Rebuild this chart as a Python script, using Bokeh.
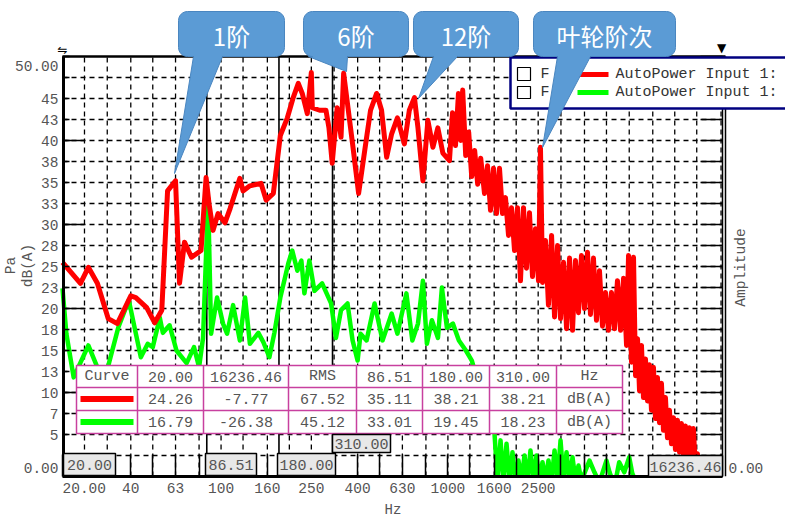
import math
from bokeh.plotting import figure
from bokeh.models import Range1d, LinearScale, FixedTicker
from bokeh.core.properties import value
from bokeh.embed import file_html
from bokeh.resources import INLINE

MONO = "Liberation Mono"
CJK = "Noto Sans CJK SC"
GRAY = "#555555"
PINK = "#C8409F"

# ---------------- data ----------------
red_freq = [20.0, 24.0, 26.0, 28.5, 31.8, 34.9, 40.0, 42.1, 47.0, 51.0,
            54.8, 58.1, 63.0, 65.6, 69.0, 74.1, 81.6, 85.9, 88.5, 92.2,
            97.0, 104.0, 109.6, 121.0, 125.0, 134.0, 150.0, 158.0, 170.0, 177.0,
            182.5, 196.0, 208.0, 219.0, 228.0, 240.0, 250.0, 252.5, 272.0, 290.0,
            299.0, 309.0, 325.0, 338.0, 347.0, 380.0, 404.0, 434.0, 456.0, 485.0,
            510.0, 537.0, 565.0, 599.0, 643.0, 676.0, 712.0, 738.0, 776.0, 816.0,
            859.0, 903.0, 950.0, 1016.0, 1048.0, 1080.0, 1113.0, 1139.0, 1162.0, 1198.0,
            1235.0, 1273.0, 1312.0, 1353.0, 1395.0, 1450.0, 1495.0, 1541.0, 1589.0, 1638.0,
            1688.0, 1741.0, 1794.0, 1850.0, 1907.0, 1966.0, 2027.0, 2089.0, 2154.0, 2220.0,
            2289.0, 2360.0, 2433.0, 2508.0, 2559.0, 2612.0, 2692.0, 2775.0, 2864.0, 2952.0,
            3043.0, 3137.0, 3234.0, 3334.0, 3437.0, 3543.0, 3651.0, 3764.0, 3880.0, 4000.0,
            4124.0, 4251.0, 4382.0, 4518.0, 4658.0, 4802.0, 4950.0, 5103.0, 5260.0, 5423.0,
            5590.0, 5768.0, 5947.0, 6130.0, 6255.0, 6449.0, 6581.0, 6716.0, 6854.0, 6994.0,
            7134.0, 7280.0, 7430.0, 7582.0, 7737.0, 7895.0, 8057.0, 8222.0, 8390.0, 8562.0,
            8738.0, 8917.0, 9100.0, 9287.0, 9477.0, 9671.0, 9869.0, 10071.0, 10277.0, 10488.0,
            10703.0, 10922.0, 11146.0, 11375.0, 11609.0, 11846.0, 12089.0, 12336.0, 12589.0, 12846.0,
            13379.0, 14963.0, 16236.46]
red_db = [25.5, 23.0, 24.9, 23.0, 18.8, 18.2, 21.5, 21.3, 20.1, 18.3,
          19.8, 34.0, 35.2, 23.0, 27.9, 26.1, 26.9, 35.6, 32.5, 29.3,
          31.3, 30.2, 31.9, 35.5, 34.0, 34.6, 34.9, 32.9, 33.7, 37.6,
          40.6, 42.7, 45.1, 46.8, 45.6, 43.2, 48.1, 43.9, 43.6, 43.6,
          41.5, 37.3, 43.9, 40.4, 48.0, 39.6, 33.7, 39.6, 43.6, 45.6,
          43.6, 38.0, 40.8, 42.7, 39.6, 43.6, 45.1, 41.5, 35.2, 42.4,
          39.2, 41.5, 38.5, 37.6, 43.3, 39.4, 45.6, 40.0, 46.0, 38.2,
          41.0, 35.7, 38.8, 34.8, 37.9, 33.7, 37.0, 31.7, 36.7, 31.3,
          36.7, 31.3, 33.2, 28.7, 32.0, 26.9, 32.0, 23.3, 32.0, 24.8,
          31.4, 23.8, 29.5, 23.3, 39.2, 23.1, 28.1, 20.4, 28.7, 19.0,
          27.5, 18.8, 25.5, 17.6, 26.0, 17.4, 25.7, 19.5, 26.3, 20.0,
          26.7, 19.3, 26.0, 18.6, 24.5, 17.9, 21.9, 17.4, 21.9, 17.6,
          23.3, 17.4, 23.6, 15.6, 26.3, 13.6, 26.1, 12.0, 16.4, 10.2,
          15.6, 9.4, 14.0, 9.0, 13.3, 7.9, 13.0, 6.9, 11.8, 6.4,
          11.1, 5.5, 9.4, 4.6, 7.9, 3.9, 7.0, 3.2, 6.7, 2.9,
          6.3, 2.4, 6.0, 1.9, 5.8, 1.4, 5.7, 0.7, 2.7, -0.2,
          -1.1, -4.0, -7.77]

green_freq = [20.0, 20.8, 22.4, 26.0, 28.5, 31.0, 35.2, 39.2, 44.3, 47.5,
              50.0, 53.7, 55.4, 59.3, 63.6, 70.5, 76.0, 80.0, 83.3, 87.7,
              90.4, 96.0, 102.0, 106.3, 113.0, 121.0, 127.6, 134.0, 146.0, 153.6,
              163.3, 171.8, 182.5, 198.0, 206.0, 217.0, 226.0, 233.0, 245.0, 258.0,
              279.0, 305.5, 321.0, 338.0, 361.0, 380.0, 400.0, 412.0, 438.0, 475.0,
              515.0, 565.0, 599.0, 656.0, 697.0, 738.0, 776.0, 808.0, 850.0, 904.0,
              941.0, 990.0, 1052.0, 1118.0, 1200.0, 1275.0, 1370.0, 1490.0, 1605.0, 1654.0,
              1706.0, 1758.0, 1813.0, 1869.0, 1926.0, 1986.0, 2047.0, 2110.0, 2176.0, 2243.0,
              2312.0, 2384.0, 2457.0, 2533.0, 2612.0, 2692.0, 2775.0, 2864.0, 2952.0, 3043.0,
              3137.0, 3234.0, 3334.0, 3437.0, 3543.0, 3651.0, 3764.0, 3880.0, 4210.0, 4426.0,
              4657.0, 5000.0, 5160.0, 5430.0, 5690.0, 5990.0, 6300.0, 6495.0, 6975.0, 7760.0,
              9000.0, 12000.0, 16236.46]
green_db = [22.4, 17.0, 11.8, 15.6, 13.0, 12.0, 17.7, 21.0, 14.2, 15.8,
            15.4, 18.9, 17.1, 18.0, 15.0, 13.5, 15.4, 13.0, 16.5, 33.2,
            17.0, 21.3, 18.2, 17.0, 20.4, 16.2, 21.3, 15.8, 17.1, 16.0,
            14.2, 17.1, 21.3, 25.4, 26.9, 24.5, 25.7, 21.8, 25.7, 22.1,
            23.0, 20.6, 16.5, 19.8, 20.6, 16.2, 13.8, 17.0, 16.2, 20.6,
            16.2, 19.4, 17.0, 21.8, 16.2, 18.2, 23.3, 15.8, 18.6, 16.5,
            22.5, 17.7, 18.2, 16.2, 15.0, 13.8, 10.8, 7.9, 5.1, -0.5,
            4.3, -0.5, 3.9, -0.5, 2.9, -0.5, 1.9, -0.5, 2.5, -0.5,
            3.1, -0.5, 2.5, -0.5, 1.7, -0.5, 1.9, -0.5, 3.1, -0.5,
            4.3, -0.5, 2.9, -0.5, 2.3, -0.5, 1.3, -0.5, 1.9, 0.5,
            -0.7, 1.9, 0.5, -1.1, 1.7, 0.5, 2.3, 0.4, -1.7, -2.9,
            -6.0, -15.0, -26.38]

cursor_freqs = [20.0, 86.51, 180.0, 310.0, 16236.46]

bands = [25, 31.5, 40, 50, 63, 80, 100, 125, 160, 200, 250, 315, 400, 500, 630,
         800, 1000, 1250, 1600, 2000, 2500, 3150, 4000, 5000, 6300, 8000, 10000,
         12500, 16000]
x_labels = {40: "40", 63: "63", 100: "100", 160: "160", 250: "250", 400: "400",
            630: "630", 1000: "1000", 1600: "1600", 2500: "2500"}
y_ticks = [i * 2.5 for i in range(21)]
y_labels = ["", "", "5", "7", "10", "13", "15", "18", "20", "23", "25", "28",
            "30", "33", "35", "38", "40", "43", "45", "", ""]
y_minor = [10, 20, 30, 40]

table_header = ["Curve", "20.00", "16236.46", "RMS", "86.51", "180.00", "310.00", "Hz"]
table_red = ["24.26", "-7.77", "67.52", "35.11", "38.21", "38.21", "dB(A)"]
table_green = ["16.79", "-26.38", "45.12", "33.01", "19.45", "18.23", "dB(A)"]

legend_text = "AutoPower Input 1:"
callout_texts = ["1阶", "6阶", "12阶", "叶轮阶次"]

# ---------------- layout geometry (page pixels) ----------------
W, FH = 785, 476            # frame spans the page width; bottom edge = 0 dB line
X0, X1 = 62, 722            # plot area left/right
Y50 = 56                    # y pixel of 50 dB
F0, F1 = cursor_freqs[0], cursor_freqs[-1]
k = (math.log10(F1) - math.log10(F0)) / (X1 - X0)
x_start = 10 ** (math.log10(F0) - X0 * k)
x_end = 10 ** (math.log10(F0) + (W - X0) * k)
y_end = 50.0 * FH / (FH - Y50)

p = figure(frame_width=W, frame_height=FH, x_axis_type="log",
           x_range=Range1d(x_start, x_end), y_range=Range1d(0, y_end),
           y_axis_location=None, output_backend="svg", toolbar_location=None,
           min_border_left=0, min_border_right=0, min_border_top=0,
           min_border_bottom=38, background_fill_color="white",
           border_fill_color="white")
p.outline_line_color = None
p.grid.visible = False

# bottom axis (library axis, bounded to the plot area)
xa = p.xaxis[0]
xa.bounds = (F0, F1)
xa.ticker = FixedTicker(ticks=[F0] + bands, minor_ticks=[])
ovr = {b: x_labels.get(b, "") for b in bands}
ovr[F0] = "\u00a0" * 5 + "20.00"
xa.major_label_overrides = ovr
xa.major_tick_in = 22
xa.major_tick_out = 0
xa.minor_tick_in = 0
xa.minor_tick_out = 0
xa.axis_line_width = 3
xa.major_tick_line_width = 1.5
xa.major_label_text_font = MONO
xa.major_label_text_font_size = "14.5px"
xa.major_label_text_color = GRAY
xa.major_label_standoff = 4
xa.axis_label = "Hz"
xa.axis_label_text_font = MONO
xa.axis_label_text_font_size = "14px"
xa.axis_label_text_font_style = "normal"
xa.axis_label_text_color = GRAY
xa.axis_label_standoff = 2

# page-pixel overlay ranges
p.extra_x_ranges = {"px": Range1d(0, W)}
p.extra_y_ranges = {"py": Range1d(FH, 0)}
p.extra_x_scales = {"px": LinearScale()}
p.extra_y_scales = {"py": LinearScale()}
PXY = dict(x_range_name="px", y_range_name="py")
PX = dict(x_range_name="px")

# dashed grid
p.segment(x0=bands, y0=[0] * len(bands), x1=bands, y1=[50] * len(bands),
          line_color="black", line_dash="5 4", line_width=1.3)
inner_y = y_ticks[1:-1]
p.segment(x0=[F0] * len(inner_y), y0=inner_y, x1=[F1] * len(inner_y), y1=inner_y,
          line_color="black", line_dash="5 4", line_width=1.3)

# cursor lines
inner = cursor_freqs[1:4]
p.segment(x0=inner, y0=[0] * len(inner), x1=inner, y1=[50] * len(inner),
          line_color="black", line_width=1.6)

# curves
p.line(green_freq, green_db, line_color="#00FF00", line_width=4.5, line_join="round")
p.line(red_freq, red_db, line_color="#FF0000", line_width=5, line_join="round")

# left axis: line, ticks, labels
n = len(y_ticks)
p.segment(x0=[X0 + 1], y0=[0], x1=[X0 + 1], y1=[50], line_color="black", line_width=3, **PX)
p.segment(x0=[X0] * n, y0=y_ticks, x1=[X0 + 7] * n, y1=y_ticks, line_color="black",
          line_width=1.5, **PX)
p.segment(x0=[X0] * len(y_minor), y0=y_minor, x1=[X0 + 22] * len(y_minor), y1=y_minor,
          line_color="black", line_width=1.5, **PX)
p.text(x=[X0 - 4] * n, y=y_ticks, text=y_labels, text_align="right", text_baseline="middle",
       text_font=value(MONO), text_font_size=value("14.5px"), text_color=GRAY, **PX)
# top and right borders, right-axis ticks
p.segment(x0=[X0], y0=[50], x1=[X1 + 3], y1=[50], line_color="black", line_width=2.5, **PX)
p.segment(x0=[X1, X1 + 3], y0=[0, 0], x1=[X1, X1 + 3], y1=[50, 50], line_color="black",
          line_width=1.5, **PX)
p.segment(x0=[X1 - 22] * n, y0=y_ticks, x1=[X1] * n, y1=y_ticks, line_color="black",
          line_width=1.5, **PX)


def txt(texts, xs, ys, size="14.5px", font=MONO, color=GRAY, align="center", angle=0.0):
    p.text(x=xs, y=ys, text=texts, text_align=align, text_baseline="middle", angle=angle,
           text_font=value(font), text_font_size=value(size), text_color=color, **PXY)


txt(["0.00", "50.00"], [X0 - 4, X0 - 4], [467, 65], align="right")
txt(["Pa", "dB(A)"], [10, 27], [265, 265], angle=math.pi / 2)
txt(["Amplitude"], [740], [267], angle=math.pi / 2)
txt(["0.00"], [728], [467], align="left")
txt(["⇋"], [62], [49], size="12px", font="DejaVu Sans", color="black")
txt(["▼"], [721], [47], size="12px", font="DejaVu Sans", color="black")

# table
col_edges = [76, 137, 203, 288, 356, 422, 489, 556, 622]
row_edges = [365, 387, 410, 433]
p.quad(left=[col_edges[0]], right=[col_edges[-1]], top=[row_edges[0]], bottom=[row_edges[-1]],
       fill_color="white", line_color=PINK, line_width=1.5, **PXY)
p.segment(x0=col_edges[1:-1], y0=[row_edges[0]] * 7, x1=col_edges[1:-1], y1=[row_edges[-1]] * 7,
          line_color=PINK, line_width=1.5, **PXY)
p.segment(x0=[col_edges[0]] * 2, y0=row_edges[1:3], x1=[col_edges[-1]] * 2, y1=row_edges[1:3],
          line_color=PINK, line_width=1.5, **PXY)
cx = [(col_edges[i] + col_edges[i + 1]) / 2 for i in range(8)]
ry = [(row_edges[i] + row_edges[i + 1]) / 2 for i in range(3)]
tx, ty, tt = [], [], []
for i, s in enumerate(table_header):
    tx.append(cx[i]); ty.append(ry[0]); tt.append(s)
for i, s in enumerate(table_red):
    tx.append(cx[i + 1]); ty.append(ry[1]); tt.append(s)
for i, s in enumerate(table_green):
    tx.append(cx[i + 1]); ty.append(ry[2]); tt.append(s)
txt(tt, tx, ty, size="15px")
p.segment(x0=[80], y0=[ry[1]], x1=[133], y1=[ry[1]], line_color="#FF0000", line_width=6, **PXY)
p.segment(x0=[80], y0=[ry[2]], x1=[133], y1=[ry[2]], line_color="#00FF00", line_width=6, **PXY)

# cursor value boxes (above the axis ticks)
box_l = [63, 205, 277, 332, 648]
box_r = [115, 256, 335, 390, 722]
box_t = [453, 453, 453, 434, 455]
box_b = [475, 475, 475, 452, 476]
p.quad(left=box_l, right=box_r, top=box_t, bottom=box_b, fill_color="#E8E8E8",
       line_color="black", line_width=1.5, level="overlay", **PXY)
p.text(x=[(a + b) / 2 for a, b in zip(box_l, box_r)],
       y=[(a + b) / 2 + 0.5 for a, b in zip(box_t, box_b)],
       text=[f"{c:.2f}" for c in cursor_freqs], text_align="center", text_baseline="middle",
       text_font=value(MONO), text_font_size=value("15px"), text_color=GRAY,
       level="overlay", **PXY)

# legend panel
p.quad(left=[510], right=[800], top=[57], bottom=[108], fill_color="white",
       line_color="#000080", line_width=2.5, **PXY)
p.quad(left=[517, 517], right=[530, 530], top=[67, 86], bottom=[80, 98], fill_color="white",
       line_color="black", line_width=1.2, **PXY)
txt(["F", "F"], [540, 540], [74, 92], size="15px", color="#333333", align="left")
p.segment(x0=[577, 577], y0=[74, 92], x1=[608, 608], y1=[74, 92],
          line_color=["#FF0000", "#00FF00"], line_width=5, **PXY)
txt([legend_text, legend_text], [615, 615], [74, 92], size="15px", color="#333333", align="left")


# callouts
def callout_pts(x0, y0, x1, y1, bx0, bx1, tipx, tipy, r=9):
    pts = []

    def arc(cxx, cyy, a0, a1):
        for j in range(7):
            a = math.radians(a0 + (a1 - a0) * j / 6)
            pts.append((cxx + r * math.cos(a), cyy + r * math.sin(a)))

    arc(x1 - r, y0 + r, -90, 0)
    arc(x1 - r, y1 - r, 0, 90)
    pts.append((bx1, y1))
    pts.append((tipx, tipy))
    pts.append((bx0, y1))
    arc(x0 + r, y1 - r, 90, 180)
    arc(x0 + r, y0 + r, 180, 270)
    return pts


callouts = [
    (178, 11, 284, 56, 193, 222, 174, 173),
    (303, 11, 408, 56, 308, 347, 346, 71),
    (413, 11, 518, 56, 433, 457, 418, 98),
    (533, 11, 675, 56, 557, 590, 542, 147),
]
cxs, cys = [], []
for (x0, y0, x1, y1, b0, b1, tpx, tpy) in callouts:
    pts = callout_pts(x0, y0, x1, y1, b0, b1, tpx, tpy)
    cxs.append([a for a, b in pts])
    cys.append([b for a, b in pts])
p.patches(cxs, cys, fill_color="#5B9BD5", line_color="#4A86C0", line_width=1, **PXY)
txt(callout_texts, [(c[0] + c[2]) / 2 for c in callouts], [35] * 4, size="24px", font=CJK,
    color="white")

open("out.html", "w").write(file_html(p, INLINE))
